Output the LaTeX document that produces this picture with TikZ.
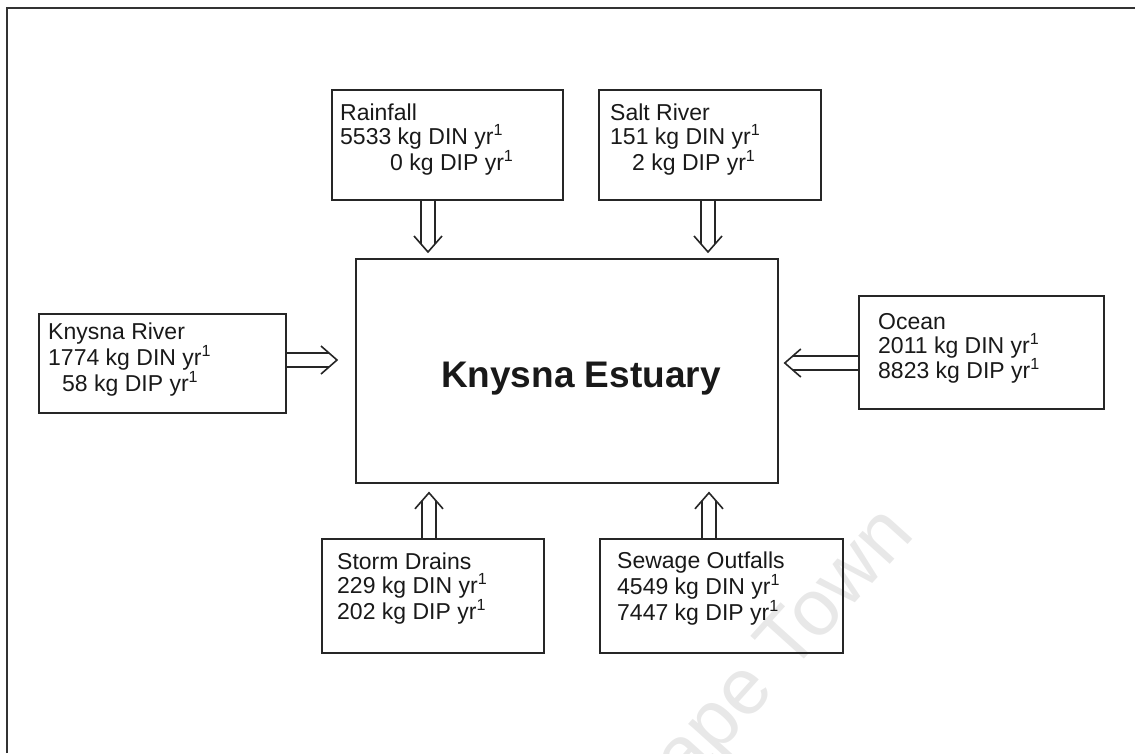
\documentclass[tikz,border=0pt]{standalone}
\usepackage{fontspec}
\setmainfont{Liberation Sans}
\usetikzlibrary{calc}
\tikzset{
  box/.style={draw=black!85, line width=1.8pt, inner sep=0pt, anchor=north west},
  lbl/.style={font=\fontsize{23}{24}\selectfont, align=left, anchor=west, inner sep=0pt, text=black!90},
  arr/.style={draw=black!85, line width=1.6pt, line join=miter},
}
% #1 start, #2 tip, #3 ux, #4 uy  (pixel directions, y downward)
\newcommand{\fatarrow}[4]{%
  \draw[arr] ($(#1)+({-7*(#4)},{7*(#3)})$) -- ($(#2)+({-8*(#3)-7*(#4)},{-8*(#4)+7*(#3)})$);
  \draw[arr] ($(#1)+({7*(#4)},{-7*(#3)})$) -- ($(#2)+({-8*(#3)+7*(#4)},{-8*(#4)-7*(#3)})$);
  \draw[arr] ($(#2)+({-16*(#3)-14*(#4)},{-16*(#4)+14*(#3)})$) -- (#2) -- ($(#2)+({-16*(#3)+14*(#4)},{-16*(#4)-14*(#3)})$);
}
\newcommand{\yr}{yr\textsuperscript{1}}
\begin{document}
\begin{tikzpicture}[x=1pt,y=-1pt]
\useasboundingbox (0,0) rectangle (1135,753);
% watermark
\begin{scope}
  \clip (0,0) rectangle (1135,753);
  \node[rotate=48, anchor=base west, inner sep=0pt, text=black!9, font=\fontsize{80}{80}\selectfont] (wm) at (648,833) {Cape Town};
\end{scope}
% frame
\draw[line width=2.5pt, black!80] (7,753) -- (7,8) -- (1135,8);
% boxes
\node[box, minimum width=231pt, minimum height=110pt] (rain) at (331,89) {};
\node[box, minimum width=222pt, minimum height=110pt] (salt) at (598,89) {};
\node[box, minimum width=422pt, minimum height=224pt] (est) at (355,258) {};
\node[box, minimum width=247pt, minimum height=99pt] (knys) at (38,313) {};
\node[box, minimum width=245pt, minimum height=113pt] (ocean) at (858,295) {};
\node[box, minimum width=222pt, minimum height=114pt] (storm) at (321,538) {};
\node[box, minimum width=243pt, minimum height=114pt] (sew) at (599,538) {};
% texts
\node[lbl] (rainT) at ($(rain.west)+(9,-5)$) {Rainfall\\5533 kg DIN \yr\\\hspace*{50pt}0 kg DIP \yr};
\node[lbl] (saltT) at ($(salt.west)+(12,-5)$) {Salt River\\151 kg DIN \yr\\\hspace*{22pt}2 kg DIP \yr};
\node[lbl] (knysT) at ($(knys.west)+(10,-4)$) {Knysna River\\1774 kg DIN \yr\\\hspace*{14pt}58 kg DIP \yr};
\node[lbl] (oceanT) at ($(ocean.west)+(20,-4)$) {Ocean\\2011 kg DIN \yr\\8823 kg DIP \yr};
\node[lbl] (stormT) at ($(storm.west)+(16,-7)$) {Storm Drains\\229 kg DIN \yr\\202 kg DIP \yr};
\node[lbl] (sewT) at ($(sew.west)+(18,-7)$) {Sewage Outfalls\\4549 kg DIN \yr\\7447 kg DIP \yr};
\node[inner sep=0pt, font=\fontsize{37}{40}\bfseries\selectfont, text=black!90] (title) at ($(est.center)+(14,8)$) {Knysna Estuary};
% helper coordinates for arrow positions
\coordinate (xa) at (428,0);
\coordinate (xb) at (708,0);
\coordinate (xc) at (429,0);
\coordinate (xd) at (709,0);
\coordinate (ya) at (0,360);
\coordinate (yb) at (0,363);
% arrows
\fatarrow{rain.south -| xa}{$(est.north -| xa)+(0,-6)$}{0}{1}
\fatarrow{salt.south -| xb}{$(est.north -| xb)+(0,-6)$}{0}{1}
\fatarrow{storm.north -| xc}{$(est.south -| xc)+(0,9)$}{0}{-1}
\fatarrow{sew.north -| xd}{$(est.south -| xd)+(0,9)$}{0}{-1}
\fatarrow{knys.east |- ya}{$(est.west |- ya)+(-18,0)$}{1}{0}
\fatarrow{ocean.west |- yb}{$(est.east |- yb)+(6,0)$}{-1}{0}
\end{tikzpicture}
\end{document}
